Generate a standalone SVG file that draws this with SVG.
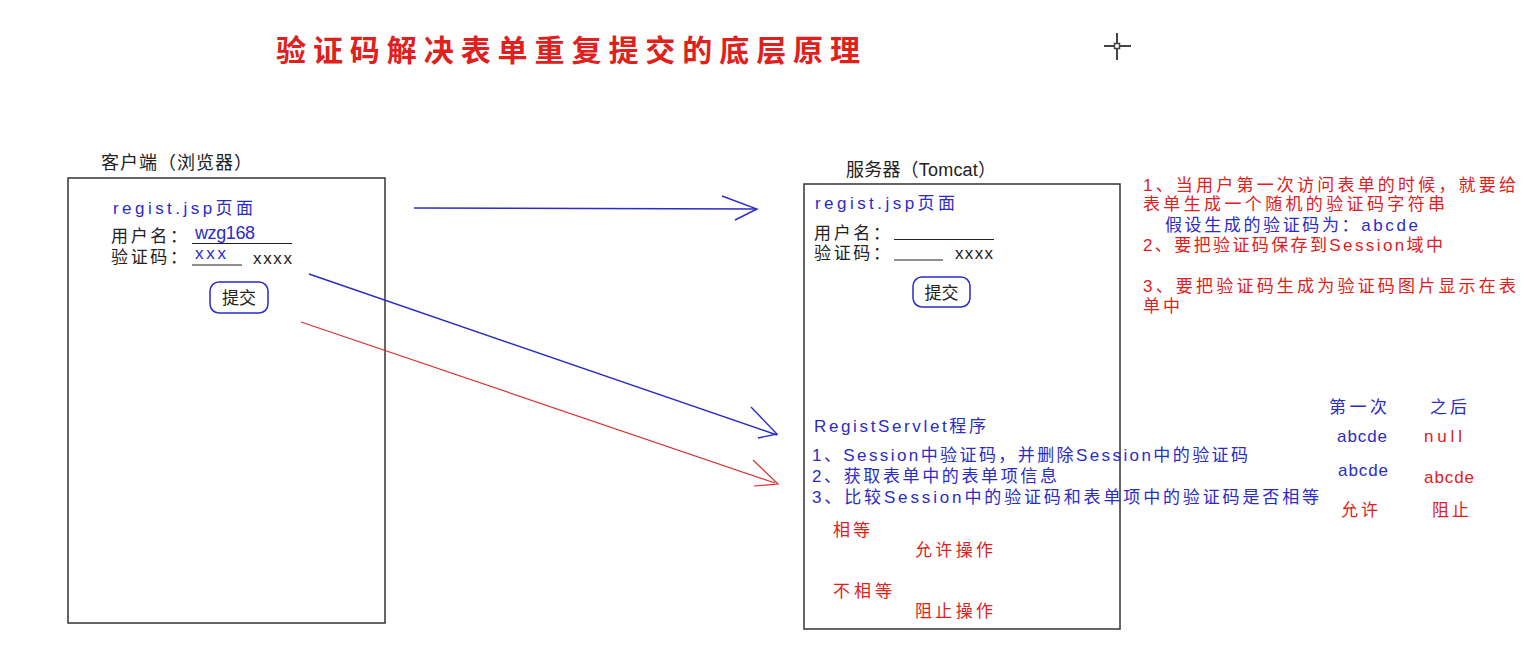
<svg xmlns="http://www.w3.org/2000/svg" width="1539" height="649" viewBox="0 0 1539 649">
<style>
text{font-family:"Liberation Sans","Noto Sans CJK SC",sans-serif;font-size:17px}
.k{fill:#222}
.b{fill:#2b2bc8}
.r{fill:#e0201c}
.box{fill:none;stroke:#333;stroke-width:1.5}
.btn{fill:none;stroke:#2b2bc8;stroke-width:1.5}
.ul{stroke:#222;stroke-width:1.2}
.ab{fill:none;stroke:#2b2bc8;stroke-width:1.4}
.ar{fill:none;stroke:#d83030;stroke-width:1.2}
</style>
<rect width="1539" height="649" fill="#fff"/>
<g id="title"><text x="276" y="61" class="r" style="font-size:30px;font-weight:bold" textLength="584" lengthAdjust="spacing">验证码解决表单重复提交的底层原理</text></g>
<g id="cursor" stroke="#444" stroke-width="2"><line x1="1104" y1="46" x2="1131" y2="46"/><line x1="1117" y1="33" x2="1117" y2="60"/><rect x="1114.5" y="43.5" width="5" height="5" fill="#fff" stroke-width="1.5"/></g>
<g id="client">
<text x="101" y="169" class="k" style="font-size:18px" textLength="151" lengthAdjust="spacing">客户端（浏览器）</text>
<rect class="box" x="68" y="178" width="317" height="445"/>
<text x="113" y="214" class="b" textLength="140" lengthAdjust="spacing">regist.jsp页面</text>
<text x="111" y="242" class="k" textLength="76" lengthAdjust="spacing">用户名：</text>
<text x="195" y="239" class="b" style="font-size:18px" textLength="60" lengthAdjust="spacing">wzg168</text>
<line class="ul" x1="192" y1="243.5" x2="292" y2="243.5"/>
<text x="111" y="263" class="k" textLength="76" lengthAdjust="spacing">验证码：</text>
<text x="195" y="259" class="b" textLength="31" lengthAdjust="spacing">xxx</text>
<line class="ul" x1="192" y1="265" x2="242" y2="265"/>
<text x="253" y="264" class="k" textLength="39" lengthAdjust="spacing">xxxx</text>
<rect class="btn" x="210" y="282" width="58" height="31" rx="9"/>
<text x="239" y="304" class="k" text-anchor="middle">提交</text>
</g>
<g id="server">
<text x="846" y="176" class="k" style="font-size:18px" textLength="150" lengthAdjust="spacing">服务器（Tomcat）</text>
<rect class="box" x="804" y="184" width="316" height="445"/>
<text x="815" y="209" class="b" textLength="140" lengthAdjust="spacing">regist.jsp页面</text>
<text x="814" y="239" class="k" textLength="76" lengthAdjust="spacing">用户名：</text>
<line class="ul" x1="894" y1="239.5" x2="994" y2="239.5"/>
<text x="814" y="259" class="k" textLength="76" lengthAdjust="spacing">验证码：</text>
<line class="ul" x1="894" y1="260" x2="943" y2="260"/>
<text x="955" y="259" class="k" textLength="38" lengthAdjust="spacing">xxxx</text>
<rect class="btn" x="913" y="277" width="57" height="30" rx="9"/>
<text x="941.5" y="299" class="k" text-anchor="middle">提交</text>
<text x="814" y="432" class="b" textLength="172" lengthAdjust="spacing">RegistServlet程序</text>
<text x="812" y="461" class="b" textLength="436" lengthAdjust="spacing">1、Session中验证码，并删除Session中的验证码</text>
<text x="812" y="482" class="b" textLength="245" lengthAdjust="spacing">2、获取表单中的表单项信息</text>
<text x="812" y="503" class="b" textLength="507" lengthAdjust="spacing">3、比较Session中的验证码和表单项中的验证码是否相等</text>
<text x="833" y="536" class="r" textLength="37" lengthAdjust="spacing">相等</text>
<text x="915" y="556" class="r" textLength="78" lengthAdjust="spacing">允许操作</text>
<text x="833" y="597" class="r" textLength="59" lengthAdjust="spacing">不相等</text>
<text x="915" y="617" class="r" textLength="78" lengthAdjust="spacing">阻止操作</text>
</g>
<g id="notes">
<text x="1143" y="191" class="r" textLength="373" lengthAdjust="spacing">1、当用户第一次访问表单的时候，就要给</text>
<text x="1143" y="210" class="r" textLength="302" lengthAdjust="spacing">表单生成一个随机的验证码字符串</text>
<text x="1165" y="231" class="b" textLength="253" lengthAdjust="spacing">假设生成的验证码为：abcde</text>
<text x="1143" y="251" class="r" textLength="300" lengthAdjust="spacing">2、要把验证码保存到Session域中</text>
<text x="1143" y="292" class="r" textLength="373" lengthAdjust="spacing">3、要把验证码生成为验证码图片显示在表</text>
<text x="1143" y="312" class="r" textLength="37" lengthAdjust="spacing">单中</text>
</g>
<g id="table">
<text x="1329" y="413" class="b" textLength="58" lengthAdjust="spacing">第一次</text>
<text x="1430" y="413" class="b" textLength="37" lengthAdjust="spacing">之后</text>
<text x="1337" y="442" class="b" textLength="50" lengthAdjust="spacing">abcde</text>
<text x="1424" y="442" class="r" textLength="38" lengthAdjust="spacing">null</text>
<text x="1338" y="476" class="b" textLength="50" lengthAdjust="spacing">abcde</text>
<text x="1424" y="483" class="r" textLength="50" lengthAdjust="spacing">abcde</text>
<text x="1341" y="516" class="r" textLength="37" lengthAdjust="spacing">允许</text>
<text x="1432" y="516" class="r" textLength="37" lengthAdjust="spacing">阻止</text>
</g>
<g id="connectors">
<line class="ab" x1="414" y1="208" x2="757" y2="209"/>
<polyline class="ab" points="722,196 757,209 735,220"/>
<line class="ab" x1="309" y1="274" x2="777" y2="435"/>
<polyline class="ab" points="751,407 777,434 758,438"/>
<line class="ar" x1="301" y1="322" x2="775" y2="483"/>
<polyline class="ar" points="753,460 778,484 754,486"/>
</g>
</svg>
